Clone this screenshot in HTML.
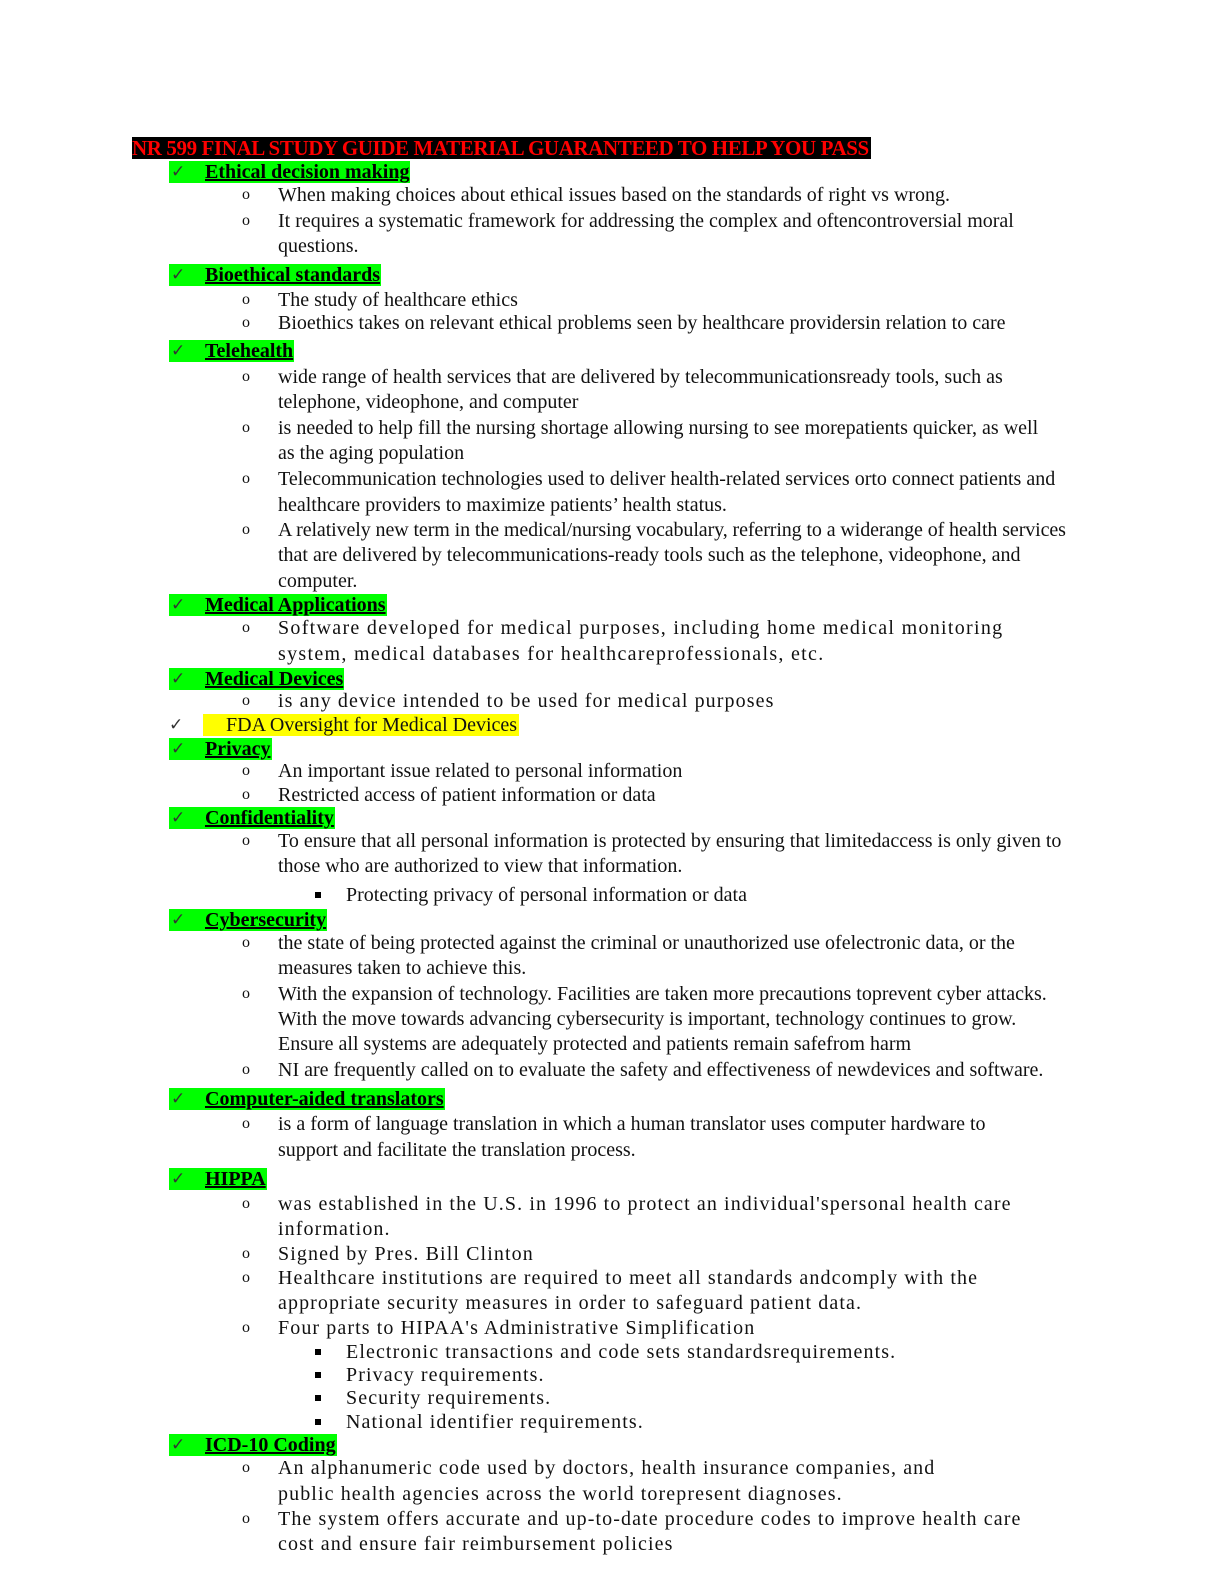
<!DOCTYPE html>
<html><head><meta charset="utf-8"><style>
html,body{margin:0;padding:0;background:#fff;}
body{width:1224px;height:1584px;position:relative;overflow:hidden;font-family:"Liberation Serif",serif;color:#111;}
#p{position:absolute;left:3px;top:6px;width:1215px;height:1570px;}
.l{position:absolute;white-space:nowrap;font-size:20px;line-height:22px;}
.t{left:275px;}
.w{letter-spacing:1.1px;}
.w2{letter-spacing:1.3px;}
.o{position:absolute;left:239px;font-size:16px;white-space:nowrap;line-height:22px;}
.sq{position:absolute;left:312px;width:6px;height:6px;background:#000;}
.h{position:absolute;left:166px;height:22px;background:#00ff00;line-height:22px;white-space:nowrap;padding-right:1px;}
.h .c{position:absolute;left:2px;top:0;font-size:17px;color:#333;font-family:"DejaVu Sans",sans-serif;}
.h b{margin-left:36px;font-size:20px;text-decoration:underline;color:#000;}
</style></head><body><div id="p">
<div class="l" style="left:129px;top:131px;background:#000;color:#ff0000;font-weight:bold;font-size:21px;height:22px;letter-spacing:-0.4px;padding-right:2px;">NR 599 FINAL STUDY GUIDE MATERIAL GUARANTEED TO HELP YOU PASS</div>

<div class="h" style="top:155px"><span class="c">✓</span><b>Ethical decision making</b></div>
<div class="o" style="top:178px">o</div><div class="l t" style="top:178px">When making choices about ethical issues based on the standards of right vs wrong.</div>
<div class="o" style="top:204px">o</div><div class="l t" style="top:204px">It requires a systematic framework for addressing the complex and oftencontroversial moral</div>
<div class="l t" style="top:229px">questions.</div>

<div class="h" style="top:258px"><span class="c">✓</span><b>Bioethical standards</b></div>
<div class="o" style="top:283px">o</div><div class="l t" style="top:283px">The study of healthcare ethics</div>
<div class="o" style="top:306px">o</div><div class="l t" style="top:306px">Bioethics takes on relevant ethical problems seen by healthcare providersin relation to care</div>

<div class="h" style="top:334px"><span class="c">✓</span><b>Telehealth</b></div>
<div class="o" style="top:360px">o</div><div class="l t" style="top:360px">wide range of health services that are delivered by telecommunicationsready tools, such as</div>
<div class="l t" style="top:385px">telephone, videophone, and computer</div>
<div class="o" style="top:411px">o</div><div class="l t" style="top:411px">is needed to help fill the nursing shortage allowing nursing to see morepatients quicker, as well</div>
<div class="l t" style="top:436px">as the aging population</div>
<div class="o" style="top:462px">o</div><div class="l t" style="top:462px">Telecommunication technologies used to deliver health-related services orto connect patients and</div>
<div class="l t" style="top:488px">healthcare providers to maximize patients’ health status.</div>
<div class="o" style="top:513px">o</div><div class="l t" style="top:513px;letter-spacing:-0.1px">A relatively new term in the medical/nursing vocabulary, referring to a widerange of health services</div>
<div class="l t" style="top:538px">that are delivered by telecommunications-ready tools such as the telephone, videophone, and</div>
<div class="l t" style="top:564px">computer.</div>

<div class="h" style="top:588px"><span class="c">✓</span><b>Medical Applications</b></div>
<div class="o" style="top:611px">o</div><div class="l t w2" style="top:611px">Software developed for medical purposes, including home medical monitoring</div>
<div class="l t w2" style="top:637px">system, medical databases for healthcareprofessionals, etc.</div>

<div class="h" style="top:662px"><span class="c">✓</span><b>Medical Devices</b></div>
<div class="o" style="top:684px">o</div><div class="l t w" style="top:684px">is any device intended to be used for medical purposes</div>
<div class="l" style="left:166px;top:708px;font-family:'DejaVu Sans',sans-serif;font-size:17px;color:#333;">✓</div>
<div class="l" style="left:200px;top:708px;width:316px;height:22px;background:#ffff00;"><span style="margin-left:23px;">FDA Oversight for Medical Devices</span></div>

<div class="h" style="top:732px"><span class="c">✓</span><b>Privacy</b></div>
<div class="o" style="top:754px">o</div><div class="l t" style="top:754px">An important issue related to personal information</div>
<div class="o" style="top:778px">o</div><div class="l t" style="top:778px">Restricted access of patient information or data</div>

<div class="h" style="top:801px"><span class="c">✓</span><b>Confidentiality</b></div>
<div class="o" style="top:824px">o</div><div class="l t" style="top:824px">To ensure that all personal information is protected by ensuring that limitedaccess is only given to</div>
<div class="l t" style="top:849px">those who are authorized to view that information.</div>
<div class="sq" style="top:886px"></div><div class="l" style="left:343px;top:878px">Protecting privacy of personal information or data</div>

<div class="h" style="top:903px"><span class="c">✓</span><b>Cybersecurity</b></div>
<div class="o" style="top:926px">o</div><div class="l t" style="top:926px">the state of being protected against the criminal or unauthorized use ofelectronic data, or the</div>
<div class="l t" style="top:951px">measures taken to achieve this.</div>
<div class="o" style="top:977px">o</div><div class="l t" style="top:977px">With the expansion of technology. Facilities are taken more precautions toprevent cyber attacks.</div>
<div class="l t" style="top:1002px">With the move towards advancing cybersecurity is important, technology continues to grow.</div>
<div class="l t" style="top:1027px">Ensure all systems are adequately protected and patients remain safefrom harm</div>
<div class="o" style="top:1053px">o</div><div class="l t" style="top:1053px">NI are frequently called on to evaluate the safety and effectiveness of newdevices and software.</div>

<div class="h" style="top:1082px"><span class="c">✓</span><b>Computer-aided translators</b></div>
<div class="o" style="top:1107px">o</div><div class="l t" style="top:1107px">is a form of language translation in which a human translator uses computer hardware to</div>
<div class="l t" style="top:1133px">support and facilitate the translation process.</div>

<div class="h" style="top:1162px"><span class="c">✓</span><b>HIPPA</b></div>
<div class="o" style="top:1187px">o</div><div class="l t w" style="top:1187px">was established in the U.S. in 1996 to protect an individual'spersonal health care</div>
<div class="l t w" style="top:1212px">information.</div>
<div class="o" style="top:1237px">o</div><div class="l t w" style="top:1237px">Signed by Pres. Bill Clinton</div>
<div class="o" style="top:1261px">o</div><div class="l t w" style="top:1261px">Healthcare institutions are required to meet all standards andcomply with the</div>
<div class="l t w" style="top:1286px">appropriate security measures in order to safeguard patient data.</div>
<div class="o" style="top:1311px">o</div><div class="l t w" style="top:1311px">Four parts to HIPAA's Administrative Simplification</div>
<div class="sq" style="top:1343px"></div><div class="l w" style="left:343px;top:1335px">Electronic transactions and code sets standardsrequirements.</div>
<div class="sq" style="top:1366px"></div><div class="l w" style="left:343px;top:1358px">Privacy requirements.</div>
<div class="sq" style="top:1389px"></div><div class="l w" style="left:343px;top:1381px">Security requirements.</div>
<div class="sq" style="top:1413px"></div><div class="l w" style="left:343px;top:1405px">National identifier requirements.</div>

<div class="h" style="top:1428px"><span class="c">✓</span><b>ICD-10 Coding</b></div>
<div class="o" style="top:1451px">o</div><div class="l t w" style="top:1451px">An alphanumeric code used by doctors, health insurance companies, and</div>
<div class="l t w" style="top:1477px">public health agencies across the world torepresent diagnoses.</div>
<div class="o" style="top:1502px">o</div><div class="l t w" style="top:1502px">The system offers accurate and up-to-date procedure codes to improve health care</div>
<div class="l t w" style="top:1527px">cost and ensure fair reimbursement policies</div>
</div></body></html>
